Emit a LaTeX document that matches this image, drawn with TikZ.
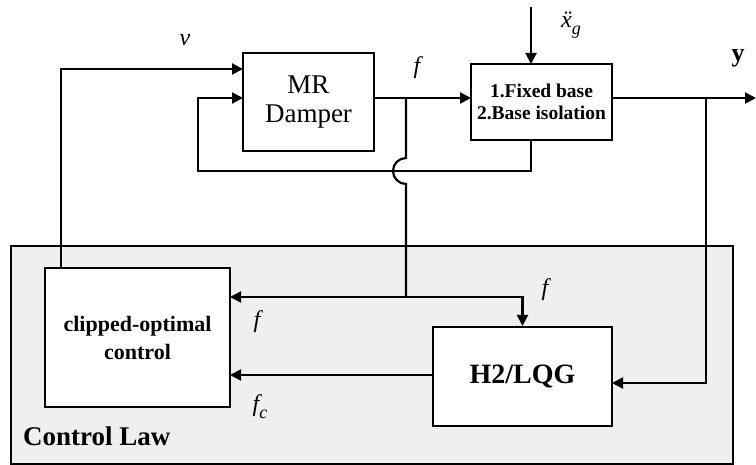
\documentclass[tikz,border=0pt]{standalone}
\usepackage{fontspec}
\setmainfont{Liberation Serif}
\usetikzlibrary{arrows.meta,calc}
\definecolor{lawgray}{HTML}{EFEFEF}
\begin{document}
\begin{tikzpicture}[x=1pt,y=-1pt, line width=2.2pt,
  >={Triangle[length=11pt,width=11pt]},
  blk/.style={draw, fill=white, line width=2.2pt, inner sep=0pt, align=center},
  lbl/.style={inner sep=0pt, font=\fontsize{24}{24}\selectfont\itshape}]
\useasboundingbox (0,0) rectangle (756,465);
% control law area
\node[draw, fill=lawgray, line width=2pt, inner sep=0pt, outer sep=0pt,
      minimum width=722pt, minimum height=218pt, anchor=north west] (law) at (11,246) {};
\node[anchor=west, inner sep=0pt, font=\fontsize{27}{27}\selectfont\bfseries] (lawtxt) at (22,436) {Control Law};
% blocks
\node[blk, minimum width=131pt, minimum height=98pt, font=\fontsize{27}{29}\selectfont] (mr) at (308.5,102) {MR\\Damper};
\node[blk, minimum width=141pt, minimum height=76pt, font=\fontsize{19.5}{22}\selectfont\bfseries] (st) at (541.5,102) {1.Fixed base\\2.Base isolation};
\node[blk, minimum width=185pt, minimum height=139pt, font=\fontsize{22}{28}\selectfont\bfseries] (cl) at (137.5,337.5) {clipped-optimal\\control};
\node[blk, minimum width=179pt, minimum height=99pt, font=\fontsize{28}{28}\selectfont\bfseries] (h2) at (522.5,376.5) {H2/LQG};
% coordinates
\coordinate (vtop) at (61,268);
\coordinate (vcorner) at (61,69);
\coordinate (mrin1) at (243,69);
\coordinate (mrin2) at (243,98);
\coordinate (mrout) at (374,98);
\coordinate (jf) at (406,98);
\coordinate (stin) at (471,98);
\coordinate (stout) at (612,98);
\coordinate (jy) at (706,98);
\coordinate (yend) at (756,98);
\coordinate (stbot) at (531,140);
\coordinate (fbl) at (198,171);
\coordinate (xgtop) at (531,7);
\coordinate (sttop) at (531,64);
\coordinate (jf2) at (406,297);
\coordinate (clf) at (230,297);
\coordinate (clfc) at (230,375);
\coordinate (h2fc) at (433,375);
\coordinate (h2y) at (612,383);
% connectors
\draw[->] (vtop) -- (vcorner) -- (mrin1);
\draw[->] (mrout) -- (stin);
\draw[->] (stout) -- (yend);
\draw[->] (xgtop) -- (sttop);
\draw[->] (stbot) |- (fbl) |- (mrin2);
\draw (jf) -- (406,158) arc[start angle=270, end angle=90, radius=13] -- (jf2);
\draw[->] (jf2) -- (clf);
\draw[->] (jf2) -| (h2.north);
\draw[->] (jy) |- (h2y);
\draw[->] (h2fc) -- (clfc);
% labels
\node[lbl] (lv) at (185,40) {v};
\node[lbl] (lf1) at (417,68) {f};
\node[inner sep=0pt, font=\fontsize{24}{24}\selectfont\itshape] (lxg) at (571,25) {\"x\raisebox{-7pt}{\fontsize{18}{18}\selectfont g}};
\node[inner sep=0pt, font=\fontsize{26}{26}\selectfont\bfseries] (ly) at (738,58) {y};
\node[lbl] (lf2) at (545,290) {f};
\node[lbl] (lf3) at (257,322) {f};
\node[lbl] (lfc) at (260,407) {f\raisebox{-7pt}{\fontsize{18}{18}\selectfont c}};
\end{tikzpicture}
\end{document}
